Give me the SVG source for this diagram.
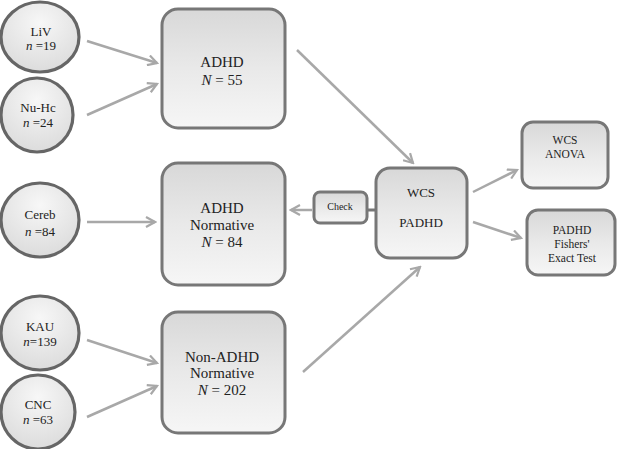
<svg xmlns="http://www.w3.org/2000/svg" width="617" height="449" viewBox="0 0 617 449">
<defs>
<linearGradient id="g" x1="0" y1="0" x2="0" y2="1"><stop offset="0" stop-color="#d8d8d8"/><stop offset="0.5" stop-color="#e9e9e9"/><stop offset="1" stop-color="#f6f6f6"/></linearGradient>
<radialGradient id="rg" cx="0.5" cy="0.3" r="0.7"><stop offset="0" stop-color="#f7f7f7"/><stop offset="1" stop-color="#dcdcdc"/></radialGradient>
<marker id="ah" viewBox="0 0 12 12" refX="10" refY="6" markerWidth="12" markerHeight="12" markerUnits="userSpaceOnUse" orient="auto"><path d="M1,1 L10,6 L1,11" fill="none" stroke="#a8a8a8" stroke-width="2.2"/></marker>
</defs>
<style>
.c{fill:url(#rg);stroke:#666;stroke-width:3.2}
.b{fill:url(#g);stroke:#777;stroke-width:3}
.t{font-family:"Liberation Serif",serif;font-size:15px;fill:#222;text-anchor:middle}
.s{font-size:13px}
.x{font-size:11.5px}
.i{font-style:italic}
.l{stroke:#a8a8a8;stroke-width:2.5;fill:none;marker-end:url(#ah)}
</style>
<rect width="617" height="449" fill="#fff"/>
<g id="connectors">
<line class="l" x1="87" y1="41" x2="157" y2="63"/>
<line class="l" x1="87" y1="115" x2="157" y2="84"/>
<line class="l" x1="87" y1="222" x2="155" y2="222"/>
<line class="l" x1="87" y1="340" x2="157" y2="363"/>
<line class="l" x1="87" y1="417" x2="157" y2="386"/>
<line class="l" x1="297" y1="50" x2="413" y2="163"/>
<line class="l" x1="303" y1="372" x2="420" y2="267"/>
<line class="l" x1="312" y1="210" x2="291" y2="210"/>
<line x1="367" y1="210" x2="375" y2="210" stroke="#777" stroke-width="3"/>
<line class="l" x1="473" y1="192" x2="517" y2="170"/>
<line class="l" x1="473" y1="222" x2="521" y2="238"/>
</g>
<g id="liv"><ellipse class="c" cx="40" cy="37" rx="39" ry="35" stroke-width="3.5"/><text class="t s" x="41" y="36">LiV</text><text class="t s" x="41" y="50"><tspan class="i">n</tspan> =19</text></g>
<g id="nuhc"><ellipse class="c" cx="37" cy="115" rx="36" ry="37"/><text class="t s" x="38" y="112">Nu-Hc</text><text class="t s" x="38" y="127"><tspan class="i">n</tspan> =24</text></g>
<g id="cereb"><ellipse class="c" cx="40" cy="220" rx="39" ry="37"/><text class="t s" x="40" y="219">Cereb</text><text class="t s" x="40" y="236"><tspan class="i">n</tspan> =84</text></g>
<g id="kau"><ellipse class="c" cx="40" cy="333" rx="39" ry="37"/><text class="t s" x="40" y="331">KAU</text><text class="t s" x="40" y="346"><tspan class="i">n</tspan>=139</text></g>
<g id="cnc"><ellipse class="c" cx="38" cy="412" rx="37" ry="37"/><text class="t s" x="38" y="409">CNC</text><text class="t s" x="38" y="424"><tspan class="i">n</tspan> =63</text></g>
<g id="adhd"><rect class="b" x="162" y="9" width="123" height="119" rx="16"/><text class="t" x="222" y="67">ADHD</text><text class="t" x="222" y="85"><tspan class="i">N</tspan> = 55</text></g>
<g id="adhdnorm"><rect class="b" x="162" y="163" width="123" height="122" rx="16"/><text class="t" x="222" y="213">ADHD</text><text class="t" x="222" y="230">Normative</text><text class="t" x="222" y="247"><tspan class="i">N</tspan> = 84</text></g>
<g id="nonadhd"><rect class="b" x="162" y="312" width="123" height="121" rx="16"/><text class="t" x="222" y="362">Non-ADHD</text><text class="t" x="222" y="378">Normative</text><text class="t" x="222" y="395"><tspan class="i">N</tspan> = 202</text></g>
<g id="check"><rect class="b" x="314" y="192" width="53" height="31" rx="6"/><text class="t" x="340" y="210" style="font-size:10px">Check</text></g>
<g id="wcs"><rect class="b" x="376" y="168" width="91" height="90" rx="14"/><text class="t s" x="421" y="197">WCS</text><text class="t s" x="421" y="227">PADHD</text></g>
<g id="anova"><rect class="b" x="522" y="122" width="86" height="66" rx="11"/><text class="t x" x="565" y="144">WCS</text><text class="t x" x="565" y="158">ANOVA</text></g>
<g id="fisher"><rect class="b" x="527" y="210" width="88" height="65" rx="11"/><text class="t x" x="572" y="234">PADHD</text><text class="t x" x="572" y="248">Fishers'</text><text class="t x" x="572" y="262">Exact Test</text></g>
</svg>
